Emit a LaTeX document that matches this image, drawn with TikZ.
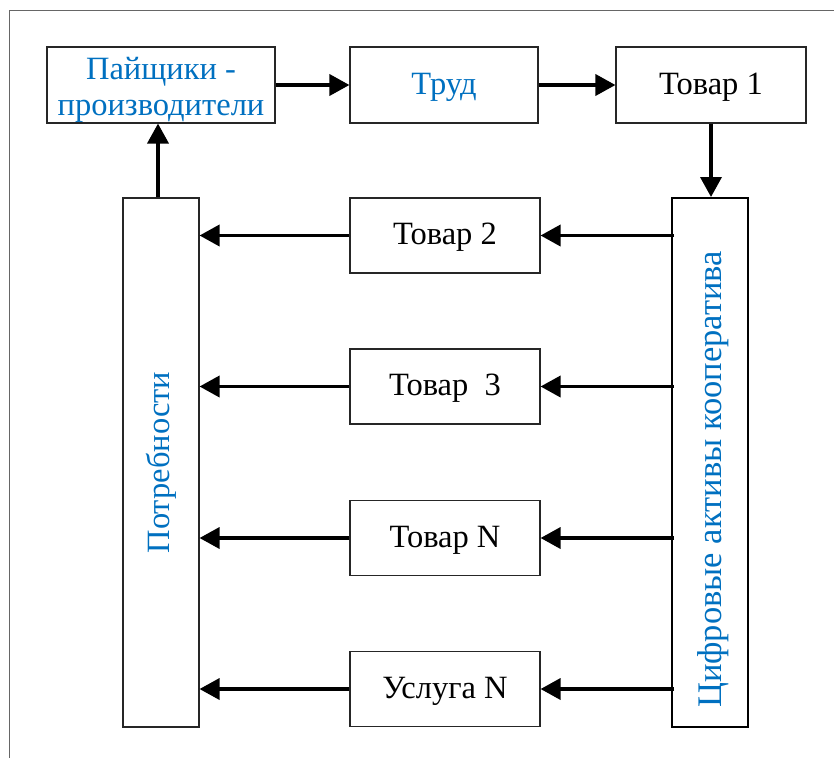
\documentclass[tikz,border=0pt]{standalone}
\usepackage{fontspec}
\setmainfont{Liberation Serif}
\usetikzlibrary{arrows.meta}
\definecolor{tblue}{HTML}{0070C0}
\begin{document}
\begin{tikzpicture}[x=1pt,y=-1pt,
  box/.style={draw=black!85,line width=1.1pt,rectangle,inner sep=0pt,minimum height=76pt,
    font=\fontsize{32.5}{36}\selectfont},
  single/.style={text height=24pt,text depth=6pt},
  tall/.style={draw=black!85,line width=1.1pt,rectangle,inner sep=0pt,minimum width=76pt,minimum height=529pt},
  vlabel/.style={rotate=90,inner sep=0pt,text=tblue},
  flow/.style={line width=3.6pt,-{Triangle[length=20pt,width=21pt]}}]
\useasboundingbox (0,0) rectangle (834,758);
\draw[black!60,line width=1pt] (9,758) -- (9,10) -- (834,10);
% top row
\node[box,align=center,minimum width=228pt,text=tblue] (pay) at (161,85) {\rule{0pt}{31pt}Пайщики -\\производители};
\node[box,single,minimum width=188pt,text=tblue] (trud) at (444,85) {Труд};
\node[box,single,minimum width=190pt] (t1) at (711,85) {Товар 1};
% tall boxes
\node[tall,draw=black,line width=2pt] (cif) at (710,462.5) {};
\node[vlabel,font=\fontsize{34.5}{36}\selectfont] (ciflab) at ([xshift=3pt,yshift=-17pt]cif.center) {Цифровые активы кооператива};
\node[tall] (potr) at (161,462.5) {};
\node[vlabel,font=\fontsize{32.5}{36}\selectfont] (potrlab) at (potr.center) {Потребности};
% middle column
\node[box,single,minimum width=190pt,minimum height=75pt] (t2) at (445,235.5) {Товар 2};
\node[box,single,minimum width=190pt,minimum height=75pt] (t3) at (445,386.5) {Товар\ \ 3};
\node[box,single,minimum width=190pt,minimum height=75pt] (tn) at (445,538) {Товар N};
\node[box,single,minimum width=190pt,minimum height=75pt] (un) at (445,689) {Услуга N};
% arrows
\draw[flow] (pay.east) -- (trud.west);
\draw[flow] (trud.east) -- (t1.west);
\draw[flow] (t1.south) -- (t1.south |- cif.north);
\foreach \n in {t2,t3,tn,un}{
  \draw[flow] ([xshift=3pt]cif.west |- \n.east) -- (\n.east);
  \draw[flow] (\n.west) -- (potr.east |- \n.west);
}
\draw[flow] ([xshift=-3pt]potr.north) -- ([xshift=-3pt]pay.south);
\end{tikzpicture}
\end{document}
